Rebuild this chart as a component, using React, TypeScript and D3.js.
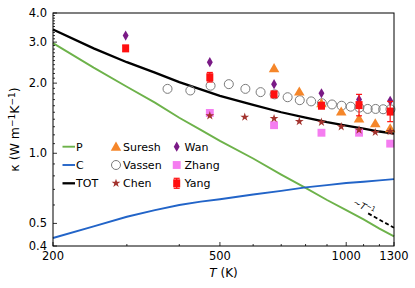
import { useEffect, useRef } from "react";
import * as d3 from "d3";

// ── model curves ─────────────────────────────────────────────────────────────
const tGrid = [200, 250, 300, 350, 400, 450, 500, 600, 700, 800, 900, 1000, 1100, 1200, 1300];
const kP    = [2.97, 2.33, 1.93, 1.65, 1.42, 1.26, 1.13, 0.95, 0.81, 0.71, 0.63, 0.57, 0.52, 0.475, 0.44];
const kC    = [0.433, 0.486, 0.534, 0.57, 0.60, 0.62, 0.635, 0.665, 0.69, 0.714, 0.73, 0.745, 0.755, 0.765, 0.775];
const kTOT  = [3.40, 2.82, 2.46, 2.22, 2.02, 1.88, 1.765, 1.615, 1.50, 1.424, 1.36, 1.315, 1.275, 1.24, 1.215];

// ── experimental data ────────────────────────────────────────────────────────
const sureshT = [673, 773, 873, 973, 1073, 1173, 1273];
const sureshK = [2.32, 1.84, 1.64, 1.51, 1.41, 1.345, 1.28];

const vassenT = [375, 425, 475, 525, 575, 625, 675, 725, 775, 825, 875, 925, 975, 1025, 1075, 1125, 1175, 1225, 1275];
const vassenK = [1.89, 1.86, 1.95, 1.98, 1.89, 1.83, 1.79, 1.74, 1.69, 1.67, 1.64, 1.62, 1.60, 1.585, 1.57, 1.55, 1.55, 1.545, 1.545];

const chenT = [473, 573, 673, 773, 873, 973, 1073, 1173, 1273];
const chenK = [1.45, 1.43, 1.41, 1.37, 1.36, 1.30, 1.26, 1.23, 1.24];

const wanT = [298, 473, 673, 873, 1073, 1273];
const wanK = [3.20, 2.46, 1.98, 1.81, 1.70, 1.68];

const zhangT = [473, 673, 873, 1073, 1273];
const zhangK = [1.49, 1.32, 1.225, 1.225, 1.10];

const yangT   = [298, 473, 673, 873, 1073, 1273];
const yangK   = [2.82, 2.12, 1.79, 1.60, 1.61, 1.51];
const yangErr = [0.08, 0.10, 0.04, 0.04, 0.17, 0.15];

// ── axes ─────────────────────────────────────────────────────────────────────
const xMajor = [200, 500, 1000, 1300];
const xMinor = [300, 400, 600, 700, 800, 900, 1100, 1200];
const yMajor = [0.4, 0.5, 1.0, 2.0, 3.0, 4.0];
const yMinor = [0.6, 0.7, 0.8, 0.9, 1.1, 1.2, 1.3, 1.4, 1.5, 1.6, 1.7, 1.8, 1.9,
                2.1, 2.2, 2.3, 2.4, 2.5, 2.6, 2.7, 2.8, 2.9, 3.1, 3.2, 3.3, 3.4, 3.5, 3.6, 3.7, 3.8, 3.9];

const W = 415;
const H = 288;
const M = { left: 53, right: 394, top: 13, bottom: 246 };
const FONT = "'DejaVu Sans', Verdana, sans-serif";

const GREEN  = "#6db24a";
const BLUE   = "#2264c8";
const ORANGE = "#f5862a";
const PURPLE = "#7a1a86";
const PINK   = "#f57df0";
const RED    = "#ff1010";
const BROWN  = "#a3332e";

export default function App() {
  const svgRef = useRef<SVGSVGElement>(null);

  useEffect(() => {
    const svg = d3.select(svgRef.current);
    svg.selectAll("*").remove();

    const x = d3.scaleLog().domain([200, 1300]).range([M.left, M.right]);
    const y = d3.scaleLog().domain([0.4, 4.0]).range([M.bottom, M.top]);

    // ── curves ──
    const line = d3.line<[number, number]>().x(d => x(d[0])).y(d => y(d[1]));
    const curve = (vals: number[], color: string, w: number) =>
      svg.append("path")
        .attr("d", line(tGrid.map((t, i) => [t, vals[i]] as [number, number])))
        .attr("fill", "none").attr("stroke", color).attr("stroke-width", w);
    curve(kP, GREEN, 1.9);
    curve(kC, BLUE, 1.9);
    curve(kTOT, "#000", 2.3);

    // ~T^-1 guide
    svg.append("line")
      .attr("x1", x(1128)).attr("y1", y(0.552))
      .attr("x2", x(1300)).attr("y2", y(0.552 * 1128 / 1300))
      .attr("stroke", "#000").attr("stroke-width", 1.8).attr("stroke-dasharray", "4,2.5");
    const ann = svg.append("text")
      .attr("transform", `translate(${x(1035)},${y(0.605)}) rotate(28)`)
      .attr("font-family", FONT).attr("font-size", 9).attr("fill", "#000");
    ann.append("tspan").text("~");
    ann.append("tspan").attr("font-style", "italic").text("T");
    ann.append("tspan").attr("dy", -3.5).attr("font-size", 6.5).text("−1");

    // ── markers ──
    const g = svg.append("g");
    const sym = (type: d3.SymbolType, size: number) => d3.symbol().type(type).size(size)();

    const scatter = (ts: number[], ks: number[], draw: (sel: any) => void) => {
      ts.forEach((t, i) => {
        const s = g.append("g").attr("transform", `translate(${x(t)},${y(ks[i])})`);
        draw(s);
      });
    };

    const drawSuresh = (s: any) => s.append("path").attr("d", sym(d3.symbolTriangle, 48)).attr("transform", "translate(0,1)").attr("fill", ORANGE);
    const drawVassen = (s: any) => s.append("circle").attr("r", 4.5).attr("fill", "none").attr("stroke", "#7a7a7a").attr("stroke-width", 1);
    const drawChen   = (s: any) => s.append("path").attr("d", sym(d3.symbolStar, 24)).attr("fill", BROWN);
    const drawWan    = (s: any) => s.append("path").attr("d", sym(d3.symbolDiamond, 30)).attr("fill", PURPLE);
    const drawZhang  = (s: any) => s.append("path").attr("d", sym(d3.symbolSquare, 62)).attr("fill", PINK);
    const drawYang   = (s: any, errPx = 0) => {
      if (errPx > 0) {
        s.append("line").attr("y1", -errPx).attr("y2", errPx).attr("stroke", RED).attr("stroke-width", 1.2);
        for (const e of [-errPx, errPx])
          s.append("line").attr("x1", -3).attr("x2", 3).attr("y1", e).attr("y2", e).attr("stroke", RED).attr("stroke-width", 1.2);
      }
      s.append("rect").attr("x", -3.5).attr("y", -4).attr("width", 7).attr("height", 8).attr("fill", RED);
    };

    scatter(vassenT, vassenK, drawVassen);
    scatter(sureshT, sureshK, drawSuresh);
    scatter(zhangT, zhangK, drawZhang);
    scatter(chenT, chenK, drawChen);
    scatter(wanT, wanK, drawWan);
    yangT.forEach((t, i) => {
      const s = g.append("g").attr("transform", `translate(${x(t)},${y(yangK[i])})`);
      const errPx = (y(yangK[i] - yangErr[i]) - y(yangK[i] + yangErr[i])) / 2;
      drawYang(s, errPx);
    });

    // ── frame & ticks ──
    svg.append("rect")
      .attr("x", M.left).attr("y", M.top)
      .attr("width", M.right - M.left).attr("height", M.bottom - M.top)
      .attr("fill", "none").attr("stroke", "#000").attr("stroke-width", 1);

    const ticks = svg.append("g").attr("stroke", "#000").attr("stroke-width", 0.8);
    xMajor.forEach(t => ticks.append("line").attr("x1", x(t)).attr("x2", x(t)).attr("y1", M.bottom).attr("y2", M.bottom - 4));
    xMinor.forEach(t => ticks.append("line").attr("x1", x(t)).attr("x2", x(t)).attr("y1", M.bottom).attr("y2", M.bottom - 2));
    yMajor.forEach(v => ticks.append("line").attr("y1", y(v)).attr("y2", y(v)).attr("x1", M.left).attr("x2", M.left + 4));
    yMinor.forEach(v => ticks.append("line").attr("y1", y(v)).attr("y2", y(v)).attr("x1", M.left).attr("x2", M.left + 2));

    const labels = svg.append("g").attr("font-family", FONT).attr("font-size", 11.5).attr("fill", "#000");
    xMajor.forEach(t => labels.append("text").attr("x", x(t)).attr("y", 260).attr("text-anchor", "middle").text(String(t)));
    yMajor.forEach(v => labels.append("text").attr("x", 47).attr("y", y(v)).attr("dy", "0.35em").attr("text-anchor", "end").text(v.toFixed(1)));

    const xl = labels.append("text").attr("x", (M.left + M.right) / 2).attr("y", 277)
      .attr("text-anchor", "middle").attr("font-size", 12);
    xl.append("tspan").attr("font-style", "italic").text("T");
    xl.append("tspan").text(" (K)");

    const yl = labels.append("text")
      .attr("transform", `translate(19,${(M.top + M.bottom) / 2}) rotate(-90)`)
      .attr("text-anchor", "middle").attr("font-size", 12.5);
    yl.append("tspan").text("κ (W m");
    yl.append("tspan").attr("dy", -4.5).attr("font-size", 9).text("−1");
    yl.append("tspan").attr("dy", 4.5).text("K");
    yl.append("tspan").attr("dy", -4.5).attr("font-size", 9).text("−1");
    yl.append("tspan").attr("dy", 4.5).text(")");

    // ── legend ──
    const leg = svg.append("g").attr("font-family", FONT).attr("font-size", 11).attr("fill", "#000");
    const rows = [146.7, 165, 183.3];
    const lineItems: [string, string][] = [["P", GREEN], ["C", BLUE], ["TOT", "#000"]];
    lineItems.forEach(([name, color], i) => {
      leg.append("line").attr("x1", 62.5).attr("x2", 75).attr("y1", rows[i]).attr("y2", rows[i])
        .attr("stroke", color).attr("stroke-width", i === 2 ? 2.3 : 1.9);
      leg.append("text").attr("x", 76).attr("y", rows[i]).attr("dy", "0.36em").text(name);
    });
    const col2: [string, (s: any) => void][] = [["Suresh", drawSuresh], ["Vassen", drawVassen], ["Chen", drawChen]];
    col2.forEach(([name, draw], i) => {
      draw(leg.append("g").attr("transform", `translate(116,${rows[i]})`));
      leg.append("text").attr("x", 123).attr("y", rows[i]).attr("dy", "0.36em").text(name);
    });
    const col3: [string, (s: any) => void][] = [["Wan", drawWan], ["Zhang", drawZhang], ["Yang", (s: any) => drawYang(s, 5)]];
    col3.forEach(([name, draw], i) => {
      draw(leg.append("g").attr("transform", `translate(176.7,${rows[i]})`));
      leg.append("text").attr("x", 184.5).attr("y", rows[i]).attr("dy", "0.36em").text(name);
    });
  }, []);

  return (
    <svg
      ref={svgRef}
      width={W}
      height={H}
      style={{ position: "absolute", left: 0, top: 0, background: "#fff", display: "block" }}
    />
  );
}
